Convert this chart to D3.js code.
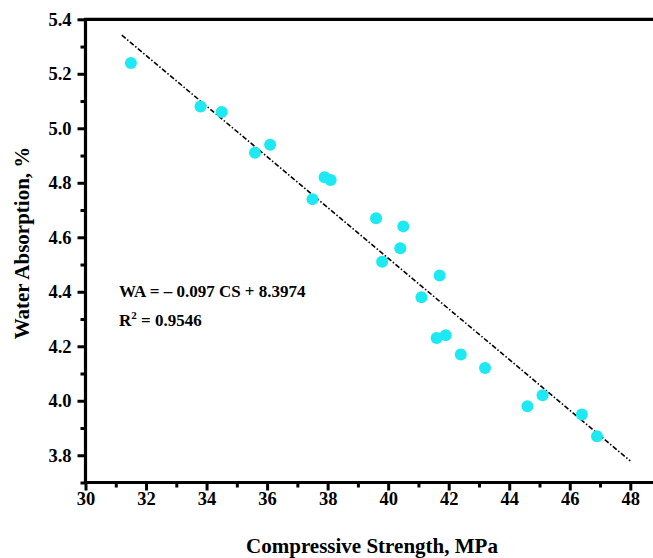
<!DOCTYPE html>
<html><head><meta charset="utf-8">
<script src="https://cdn.jsdelivr.net/npm/d3@7"></script>
<style>
html,body{margin:0;padding:0;background:#fff;}
svg{display:block;font-family:"Liberation Serif","Times New Roman",serif;font-weight:bold;}
</style></head>
<body><svg id="chart" width="653" height="558"></svg>
<script>
// Data
const cs = [31.5, 33.8, 34.5, 35.6, 36.1, 37.5, 37.9, 38.1, 39.6, 40.5, 40.4, 39.8, 41.7, 41.1, 41.6, 41.9, 42.4, 43.2, 45.1, 44.6, 46.4, 46.9];
const wa = [5.24, 5.08, 5.06, 4.91, 4.94, 4.74, 4.82, 4.81, 4.67, 4.64, 4.56, 4.51, 4.46, 4.38, 4.23, 4.24, 4.17, 4.12, 4.02, 3.98, 3.95, 3.87];
const fitX = [31.2, 48.0];
const fitY = [5.342, 3.779];
const xTicks = [30, 32, 34, 36, 38, 40, 42, 44, 46, 48];
const xMinor = [31, 33, 35, 37, 39, 41, 43, 45, 47];
const yTicks = [3.8, 4.0, 4.2, 4.4, 4.6, 4.8, 5.0, 5.2, 5.4];
const yMinor = [3.7, 3.9, 4.1, 4.3, 4.5, 4.7, 4.9, 5.1, 5.3];
const eqLine1 = "WA = \u2013 0.097 CS + 8.3974";
const r2Value = "0.9546";
const xTitle = "Compressive Strength, MPa";
const yTitle = "Water Absorption, %";

const svg = d3.select("#chart");
const x = d3.scaleLinear().domain([30, 48]).range([85.5, 630.3]);
const y = d3.scaleLinear().domain([3.7, 5.4]).range([482.5, 19.3]);
const xEnd = 653;

// fit line
svg.append("path")
  .datum(fitX.map((v, i) => [v, fitY[i]]))
  .attr("d", d3.line().x(d => x(d[0])).y(d => y(d[1])))
  .attr("fill", "none").attr("stroke", "#000").attr("stroke-width", 1.6)
  .attr("stroke-dasharray", "5,2,1.5,2");

// points
svg.append("g").selectAll("circle").data(cs.map((v, i) => [v, wa[i]])).join("circle")
  .attr("cx", d => x(d[0])).attr("cy", d => y(d[1])).attr("r", 6)
  .attr("fill", "#1ce9f1");

// x axis
const xAxis = svg.append("g").attr("transform", `translate(0,${y(3.7)})`)
  .call(d3.axisBottom(x).tickValues(xTicks).tickSize(8).tickPadding(1).tickFormat(d3.format("d")));
xAxis.select(".domain").remove();
xAxis.selectAll(".tick line").attr("stroke-width", 3);
xAxis.selectAll(".tick text").attr("font-size", 18.5).attr("font-family", "Liberation Serif").attr("font-weight", "bold").attr("fill", "#000");
const xAxisMinor = svg.append("g").attr("transform", `translate(0,${y(3.7)})`)
  .call(d3.axisBottom(x).tickValues(xMinor).tickSize(5).tickFormat(""));
xAxisMinor.select(".domain").remove();
xAxisMinor.selectAll(".tick line").attr("stroke-width", 3);

// y axis
const yAxis = svg.append("g").attr("transform", `translate(${x(30)},0)`)
  .call(d3.axisLeft(y).tickValues(yTicks).tickSize(8).tickPadding(6).tickFormat(d3.format(".1f")));
yAxis.select(".domain").remove();
yAxis.selectAll(".tick line").attr("stroke-width", 3);
yAxis.selectAll(".tick text").attr("font-size", 18.5).attr("font-family", "Liberation Serif").attr("font-weight", "bold").attr("fill", "#000");
const yAxisMinor = svg.append("g").attr("transform", `translate(${x(30)},0)`)
  .call(d3.axisLeft(y).tickValues(yMinor).tickSize(5).tickFormat(""));
yAxisMinor.select(".domain").remove();
yAxisMinor.selectAll(".tick line").attr("stroke-width", 3);

// frame lines (bottom, left, top)
svg.append("path")
  .attr("d", `M${xEnd},${y(5.4)}H${x(30)}V${y(3.7)}H${xEnd}`)
  .attr("fill", "none").attr("stroke", "#000").attr("stroke-width", 3.2);

// equation
svg.append("text").attr("x", 119).attr("y", 297).attr("font-size", 17).text(eqLine1);
const r2 = svg.append("text").attr("x", 119).attr("y", 326).attr("font-size", 17);
r2.append("tspan").text("R");
r2.append("tspan").attr("font-size", 11).attr("dy", -7).text("2");
r2.append("tspan").attr("dy", 7).text(" = " + r2Value);

// titles
svg.append("text").attr("x", 372).attr("y", 553).attr("text-anchor", "middle").attr("font-size", 21).text(xTitle);
svg.append("text").attr("transform", "translate(29,243) rotate(-90)").attr("text-anchor", "middle").attr("font-size", 21).text(yTitle);
</script></body></html>
